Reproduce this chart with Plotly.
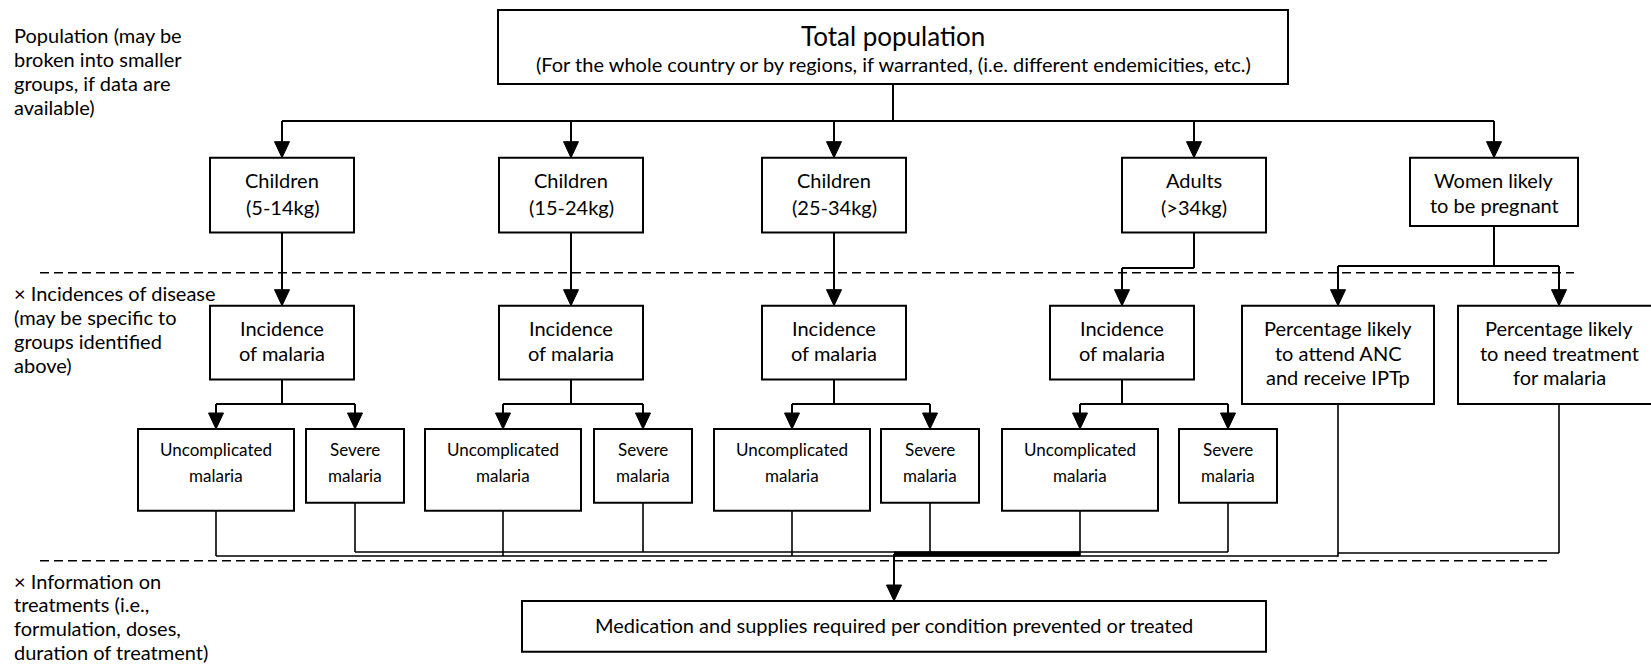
import plotly.graph_objects as go

# ---------------- text content (data) ----------------
side_population = ["Population (may be", "broken into smaller", "groups, if data are", "available)"]
side_incidence = ["× Incidences of disease", "(may be specific to", "groups identified", "above)"]
side_treatment = ["× Information on", "treatments (i.e.,", "formulation, doses,", "duration of treatment)"]
total_title = "Total population"
total_sub = "(For the whole country or by regions, if warranted, (i.e. different endemicities, etc.)"
group_names = ["Children", "Children", "Children", "Adults"]
group_ranges = ["(5-14kg)", "(15-24kg)", "(25-34kg)", "(>34kg)"]
women_label = ["Women likely", "to be pregnant"]
incidence_label = ["Incidence", "of malaria"]
uncomplicated_label = ["Uncomplicated", "malaria"]
severe_label = ["Severe", "malaria"]
anc_label = ["Percentage likely", "to attend ANC", "and receive IPTp"]
treat_label = ["Percentage likely", "to need treatment", "for malaria"]
final_label = "Medication and supplies required per condition prevented or treated"

# ---------------- layout geometry (pixels) ----------------
W, H = 1651, 666
FONT = "Lato, 'Open Sans', sans-serif"
BLACK = "#000000"
BOX_FS, SMALL_FS, SIDE_FS = 20, 17, 20

total_box = (498, 1288, 10, 84)
group_cx = [282, 571, 834, 1194]
group_w, group_y = 144, (157.7, 232.5)
women_box = (1410, 1578, 157.7, 226)
incid_cx = [282, 571, 834, 1122]
incid_w, incid_y = 144, (305.7, 379.5)
unc_cx = [216, 503, 792, 1080]
unc_w, unc_y = 156, (429, 510.7)
sev_cx = [355, 643, 930, 1228]
sev_w, sev_y = 98, (429, 502.7)
pct_boxes = [(1242, 1434, 305.7, 404), (1458, 1660, 305.7, 404)]
pct_cx = [1338, 1559]
final_box = (522, 1266, 601, 651.7)
bus_top_y = 121
dash_y = [272.7, 560.7]
dash_x = [(40, 1574), (40, 1550)]

shapes = []
annotations = []


def rect(x0, x1, y0, y1, w=2):
    shapes.append(dict(type="rect", xref="x", yref="y", x0=x0, x1=x1, y0=y0, y1=y1,
                       line=dict(color=BLACK, width=w), fillcolor="white", layer="above"))


def line(x0, y0, x1, y1, w=2, dash=None):
    ln = dict(color=BLACK, width=w)
    if dash:
        ln["dash"] = dash
    shapes.append(dict(type="line", xref="x", yref="y", x0=x0, y0=y0, x1=x1, y1=y1, line=ln, layer="above"))


def arrow_down(x, y_from, y_tip, w=2):
    head = 16
    line(x, y_from, x, y_tip - head + 1, w)
    shapes.append(dict(type="path", xref="x", yref="y",
                       path=f"M {x-7.5},{y_tip-head} L {x+7.5},{y_tip-head} L {x},{y_tip} Z",
                       fillcolor=BLACK, line=dict(color=BLACK, width=1), layer="above"))


def text(x, y, s, size=BOX_FS, anchor="center"):
    annotations.append(dict(x=x, y=y, xref="x", yref="y", text=s, showarrow=False,
                            xanchor=anchor, yanchor="middle",
                            font=dict(family=FONT, size=size, color=BLACK)))


def lines_text(cx, ys, strings, size=BOX_FS, anchor="center"):
    for y, s in zip(ys, strings):
        text(cx, y, s, size, anchor)


# ---- dashed separators
for y, (xa, xb) in zip(dash_y, dash_x):
    line(xa, y, xb, y, w=1.6, dash="9px,5px")

# ---- top box
rect(*total_box)
tcx = 893
text(tcx, 35.5, total_title, 26)
text(tcx, 63.5, total_sub, 20)
line(tcx, total_box[3], tcx, bus_top_y)
women_cx = (women_box[0] + women_box[1]) / 2
line(group_cx[0], bus_top_y, women_cx, bus_top_y)

# ---- group boxes
for cx, nm, rg in zip(group_cx, group_names, group_ranges):
    arrow_down(cx, bus_top_y, group_y[0])
    rect(cx - group_w / 2, cx + group_w / 2, *group_y)
    lines_text(cx, [180, 207], [nm, rg])
arrow_down(women_cx, bus_top_y, women_box[2])
rect(*women_box)
lines_text(women_cx, [180, 204.5], women_label)

# ---- group -> incidence
for cx, icx in zip(group_cx, incid_cx):
    if cx == icx:
        arrow_down(cx, group_y[1], incid_y[0])
    else:
        line(cx, group_y[1], cx, 268)
        line(icx, 268, cx, 268)
        arrow_down(icx, 268, incid_y[0])

# ---- women -> pregnancy boxes
line(women_cx, women_box[3], women_cx, 266)
line(pct_cx[0], 266, pct_cx[1], 266)
for pcx in pct_cx:
    arrow_down(pcx, 266, pct_boxes[0][2])
for (x0, x1, y0, y1), pcx, lab in zip(pct_boxes, pct_cx, [anc_label, treat_label]):
    rect(x0, x1, y0, y1)
    lines_text(pcx, [328.3, 352.5, 376.7], lab)

# ---- incidence boxes and branches
for icx, ucx, scx in zip(incid_cx, unc_cx, sev_cx):
    rect(icx - incid_w / 2, icx + incid_w / 2, *incid_y)
    lines_text(icx, [328, 352.5], incidence_label)
    line(icx, incid_y[1], icx, 404)
    line(ucx, 404, scx, 404)
    arrow_down(ucx, 404, unc_y[0])
    arrow_down(scx, 404, sev_y[0])
    rect(ucx - unc_w / 2, ucx + unc_w / 2, *unc_y)
    lines_text(ucx, [449, 475.5], uncomplicated_label, SMALL_FS)
    rect(scx - sev_w / 2, scx + sev_w / 2, *sev_y)
    lines_text(scx, [449, 475.5], severe_label, SMALL_FS)

# ---- bottom collecting lines
unc_bus, sev_bus, preg_bus = 556, 552, 553
for ucx in unc_cx:
    line(ucx, unc_y[1], ucx, unc_bus, 1.6)
for scx in sev_cx:
    line(scx, sev_y[1], scx, sev_bus, 1.6)
line(unc_cx[0], unc_bus, pct_cx[0], unc_bus, 1.6)
line(sev_cx[0], sev_bus, sev_cx[-1], sev_bus, 1.6)
line(pct_cx[0], pct_boxes[0][3], pct_cx[0], unc_bus + 0.8, 1.6)
line(pct_cx[1], pct_boxes[1][3], pct_cx[1], preg_bus, 1.6)
line(pct_cx[0], preg_bus, pct_cx[1], preg_bus, 1.6)
fcx = 894
line(fcx, 554, unc_cx[-1], 554, 5)
arrow_down(fcx, 554, final_box[2])
rect(*final_box)
text(fcx, 624.5, final_label, BOX_FS)

# ---- side labels
lines_text(12, [35, 59, 83, 107], side_population, SIDE_FS, "left")
lines_text(12, [293, 317, 341, 365], side_incidence, SIDE_FS, "left")
lines_text(12, [580.5, 604, 628, 652], side_treatment, SIDE_FS, "left")

fig = go.Figure()
fig.add_trace(go.Scatter(x=[0, W], y=[0, H], mode="markers", marker=dict(opacity=0), hoverinfo="skip",
                         showlegend=False))
fig.update_layout(
    width=W, height=H, autosize=False,
    margin=dict(l=0, r=0, t=0, b=0, pad=0),
    paper_bgcolor="white", plot_bgcolor="white",
    xaxis=dict(range=[0, W], visible=False, fixedrange=True),
    yaxis=dict(range=[H, 0], visible=False, fixedrange=True),
    shapes=shapes, annotations=annotations, showlegend=False,
)
fig.write_html("out.html", config={"displayModeBar": False},
               post_script="document.body.style.margin='0';document.body.style.overflow='hidden';")
